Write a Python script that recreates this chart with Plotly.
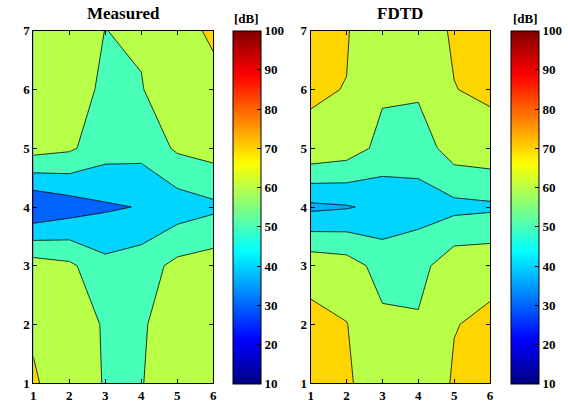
import plotly.graph_objects as go

# ---- data ----
x_vals = [1, 2, 3, 4, 5, 6]
y_vals = [1, 2, 3, 4, 5, 6, 7]

# rows = y (1..7), columns = x (1..6)
measured = [
    [71.5, 63.0, 59.67, 59.7, 64.0, 65.0],
    [68.2, 62.8, 59.5, 59.0, 64.6, 65.0],
    [64.8, 62.0, 52.8, 55.3, 62.7, 65.1],
    [30.5, 34.8, 38.7, 40.5, 44.7, 47.9],
    [64.0, 61.6, 54.2, 53.3, 61.5, 64.1],
    [64.0, 64.9, 58.0, 59.5, 66.5, 66.4],
    [63.0, 64.0, 59.9, 61.2, 65.5, 72.0],
]
fdtd = [
    [73.0, 71.9, 62.0, 62.1, 71.08, 73.0],
    [72.3, 70.28, 62.2, 61.2, 69.66, 71.8],
    [67.0, 64.75, 56.1, 56.5, 66.5, 67.2],
    [37.8, 39.2, 42.5, 46.0, 47.2, 48.25],
    [68.2, 65.4, 56.9, 54.3, 65.0, 66.4],
    [70.9, 69.8, 61.46, 61.6, 69.8, 71.5],
    [73.0, 70.7, 62.0, 65.5, 71.05, 73.0],
]
titles = ["Measured", "FDTD"]
cbar_ticks = [10, 20, 30, 40, 50, 60, 70, 80, 90, 100]
levels = dict(start=10, end=100, size=10)
zmin, zmax = 10, 100


def jet(v):
    def c(a):
        return max(0.0, min(1.0, a))
    r = c(min(4 * v - 1.5, -4 * v + 4.5))
    g = c(min(4 * v - 0.5, -4 * v + 3.5))
    b = c(min(4 * v + 0.5, -4 * v + 2.5))
    return "rgb(%d,%d,%d)" % (round(r * 255), round(g * 255), round(b * 255))


def band_color(L):
    idx = int((L - zmin) / (zmax - zmin) * 64)
    idx = min(idx, 63)
    return jet(idx / 63.0)


def fill_scale(override=None):
    override = override or {}
    Ls = list(range(10, 110, 10))
    scale = []
    lo = 0.0
    for i, L in enumerate(Ls):
        col = override.get(L, band_color(L))
        hi = 1.0 if i == len(Ls) - 1 else (L + 5) / 100.0
        scale.append([lo, col])
        scale.append([hi, col])
        lo = hi
    return scale


cont_scale = [[i / 63.0, jet(i / 63.0)] for i in range(64)]

W, H = 568, 402
font_fam = "Liberation Serif"
tick_font = dict(family=font_fam, size=13, color="black", weight="bold")

panels = [
    dict(z=measured, xd=(33.3, 213.3), cbx=232.7, scale=fill_scale()),
    dict(z=fdtd, xd=(310.7, 490.0), cbx=511.0, scale=fill_scale({30: "rgb(0,176,255)"})),
]
y_top, y_bot = 30.7, 383.3

fig = go.Figure()
for i, p in enumerate(panels):
    xa = "x" if i == 0 else "x2"
    ya = "y" if i == 0 else "y2"
    fig.add_trace(go.Contour(
        x=x_vals, y=y_vals, z=p["z"],
        xaxis=xa, yaxis=ya,
        contours=dict(coloring="fill", **levels),
        colorscale=p["scale"],
        line=dict(color="black", width=0.8, smoothing=0),
        showscale=False, hoverinfo="skip",
    ))
    fig.add_trace(go.Scatter(
        x=[x_vals[0]], y=[y_vals[0]], xaxis=xa, yaxis=ya,
        mode="markers", hoverinfo="skip", showlegend=False,
        marker=dict(
            color=[zmin], cmin=zmin, cmax=zmax, colorscale=cont_scale,
            opacity=0, size=1, showscale=True,
            colorbar=dict(
                x=p["cbx"] / W, xanchor="left", y=1 - y_top / H, yanchor="top",
                len=(y_bot - y_top + 0.7) / H, lenmode="fraction",
                thickness=28, thicknessmode="pixels", xpad=0, ypad=0,
                outlinewidth=1, outlinecolor="black",
                tickvals=cbar_ticks, ticks="inside", ticklen=4, tickcolor="black",
                tickfont=tick_font,
            ),
        ),
    ))
    cx = (p["cbx"] + 14) / W
    fig.add_annotation(text="[dB]", x=cx, y=1 - 19 / H, xref="paper", yref="paper",
                       xanchor="center", yanchor="middle",
                       showarrow=False, font=dict(family=font_fam, size=13, color="black", weight="bold"))
    fig.add_annotation(text=titles[i], x=(p["xd"][0] + p["xd"][1]) / 2 / W, y=1 - 13 / H,
                       xref="paper", yref="paper", xanchor="center", yanchor="middle",
                       showarrow=False,
                       font=dict(family=font_fam, size=17, color="black", weight="bold"))

axis_common = dict(showgrid=False, zeroline=False, ticks="inside", ticklen=4,
                   tickcolor="black", showline=True, linecolor="black", linewidth=1,
                   mirror="ticks", tickfont=tick_font, dtick=1, automargin=False)
ydom = [1 - y_bot / H, 1 - y_top / H]
fig.update_layout(
    width=W, height=H, margin=dict(l=0, r=0, t=0, b=0, autoexpand=False),
    paper_bgcolor="white", plot_bgcolor="white", showlegend=False,
    xaxis=dict(domain=[panels[0]["xd"][0] / W, panels[0]["xd"][1] / W], range=[1, 6], anchor="y", **axis_common),
    yaxis=dict(domain=ydom, range=[1, 7], anchor="x", **axis_common),
    xaxis2=dict(domain=[panels[1]["xd"][0] / W, panels[1]["xd"][1] / W], range=[1, 6], anchor="y2", **axis_common),
    yaxis2=dict(domain=ydom, range=[1, 7], anchor="x2", **axis_common),
)
fig.write_html("out.html", config={"displayModeBar": False},
               post_script="document.body.style.margin='0';document.body.style.padding='0';")
